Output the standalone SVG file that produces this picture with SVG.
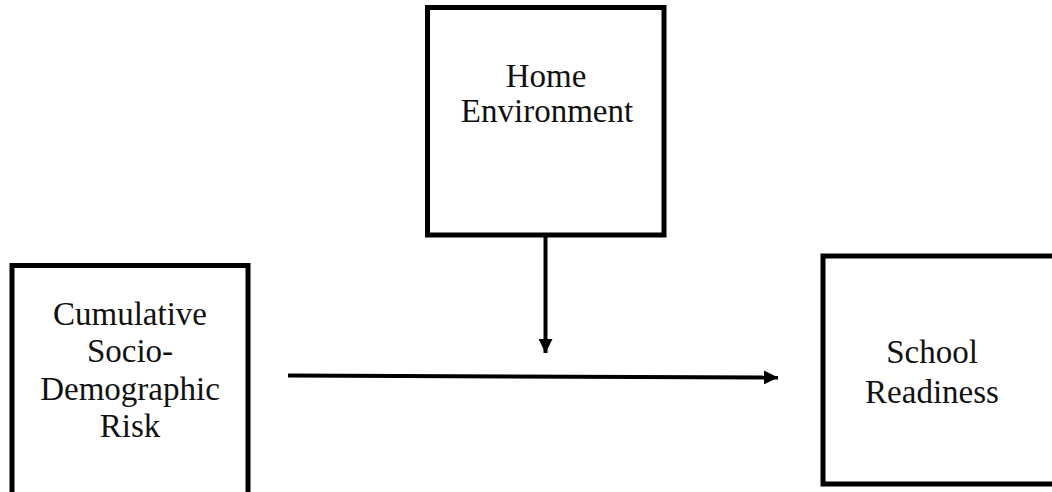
<svg xmlns="http://www.w3.org/2000/svg" width="1052" height="492" viewBox="0 0 1052 492">
<style>
.box{fill:#fff;stroke:#000;stroke-width:5}
.lbl{font-family:"Liberation Serif","Times New Roman",serif;font-size:33px;fill:#111;text-anchor:middle}
.conn{stroke:#000;stroke-width:4;fill:none}
</style>
<defs>
<marker id="arr" markerUnits="userSpaceOnUse" markerWidth="14" markerHeight="14" viewBox="0 0 12 12" refX="12" refY="6" orient="auto">
<path d="M0,0 L12,6 L0,12 Z" fill="#000"/>
</marker>
</defs>
<rect width="1052" height="492" fill="#fff"/>
<g id="home">
<rect class="box" x="427.5" y="7.5" width="236.5" height="227.5"/>
<text class="lbl" x="546" y="87">Home</text>
<text class="lbl" x="547" y="122">Environment</text>
</g>
<g id="risk">
<rect class="box" x="12" y="265.5" width="236" height="240"/>
<text class="lbl" x="130" y="325">Cumulative</text>
<text class="lbl" x="130" y="362">Socio-</text>
<text class="lbl" x="130" y="400">Demographic</text>
<text class="lbl" x="130" y="437">Risk</text>
</g>
<g id="school">
<rect class="box" x="823" y="256" width="250" height="228"/>
<text class="lbl" x="932" y="363">School</text>
<text class="lbl" x="932" y="403">Readiness</text>
</g>
<g id="connectors">
<line class="conn" x1="545.5" y1="237" x2="545.5" y2="353" marker-end="url(#arr)"/>
<line class="conn" x1="288" y1="375.5" x2="778" y2="377.5" marker-end="url(#arr)"/>
</g>
</svg>
